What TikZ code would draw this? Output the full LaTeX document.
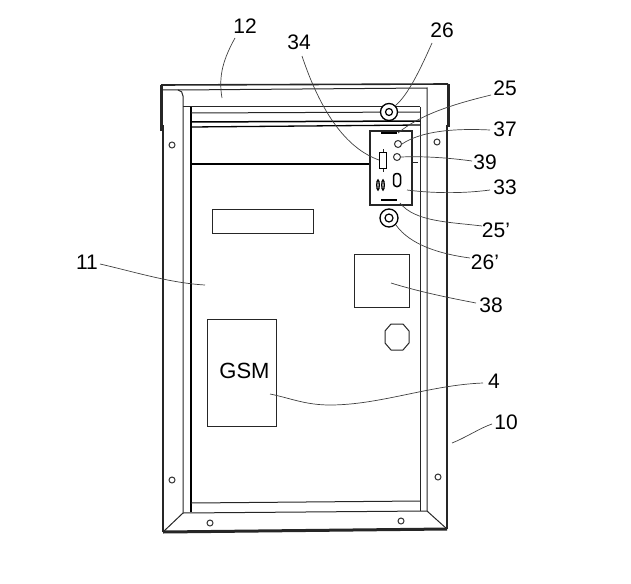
\documentclass[tikz,border=0pt]{standalone}
\usepackage{fontspec}
\setmainfont{Liberation Sans}
\usetikzlibrary{positioning,shapes.geometric}
\tikzset{
	numlabel/.style={inner sep=0pt,font=\fontsize{21}{21}\selectfont},
	leader/.style={line width=0.7pt,black!75},
	frameline/.style={line width=1pt,black!85},
	sideline/.style={line width=1.7pt,black!85},
	heavy/.style={line width=3pt,black!85},
	hole/.style={circle,draw,line width=1pt,black!80,inner sep=0pt,minimum size=6pt},
	unitbox/.style={draw,line width=1pt,black!85,inner sep=0pt,anchor=north west}
}
\begin{document}
\begin{tikzpicture}[x=1pt,y=-1pt]
	\useasboundingbox (0,0) rectangle (631,583);
	% outer frame
	\draw[line width=1.6pt,black!85] (161,85)--(448,84);
	\draw[heavy] (161.5,131)--(161.5,85);
	\draw[heavy] (448,127)--(448,84);
	\draw[sideline] (163,125)--(163,532);
	\draw[sideline] (447,125)--(447,529);
	\draw[heavy] (163,532)--(447,529);
	\draw[frameline] (163,90)--(178,90) to[out=0,in=90] (183,96)--(183,513);
	\draw[frameline] (178,90)--(427,88)--(427,511);
	\draw[frameline] (163,532)--(183,513)--(427,511)--(447,529);
	% inner rails
	\draw[frameline] (183,107)--(191,107);
	\draw[line width=1.5pt] (191,107)--(191,512);
	\draw[frameline] (191,503)--(420,501);
	\draw[frameline] (420,107)--(420,511);
	\draw[frameline] (191,107)--(420,107);
	\draw[frameline] (191,113)--(420,112);
	\draw[line width=1.5pt] (191,122)--(420,121);
	\draw[line width=1.3pt] (191,127)--(420,125);
	\draw[line width=1.5pt] (191,164)--(369,164);
	% holes in the frame
	\node[hole] (h1) at (172,145) {};
	\node[hole] (h2) at (172,480) {};
	\node[hole] (h3) at (437,142) {};
	\node[hole] (h4) at (438,477) {};
	\node[hole] (h5) at (210,523) {};
	\node[hole] (h6) at (401,521) {};
	% plates
	\node[unitbox,minimum width=101pt,minimum height=24pt] (plate) at (212,209) {};
	\node[unitbox,minimum width=55pt,minimum height=53pt] (box38) at (354,254) {};
	\node[unitbox,minimum width=69pt,minimum height=107pt] (gsm) at (207,319) {};
	\node (gsmtext) at (244.5,371) {\fontsize{22}{22}\selectfont GSM};
	\draw[frameline] (391,324)--(403,324)--(409,331)--(409,343)--(403,350)--(391,350)--(385,343)--(385,331)--cycle;
	% holder with its parts
	\node[unitbox,line width=1.5pt,fill=white,minimum width=42pt,minimum height=74pt] (holder) at (369,130) {};
	\draw[frameline] (411,162)--(418,162);
	\draw[line width=2.2pt] (381,133)--(397,133);
	\draw[line width=2.8pt] (381,200)--(397,200);
	\node[hole,minimum size=7pt] (c37) at (398,144) {};
	\node[hole,minimum size=7pt] (c39) at (397,157) {};
	\node[draw,line width=1.5pt,rounded corners=3pt,inner sep=0pt,minimum width=7pt,minimum height=13pt] (oval) at (397,180) {};
	\node[draw,line width=1pt,inner sep=0pt,minimum width=7pt,minimum height=16pt] (fuse) at (383,160) {};
	\draw[frameline] (fuse.north)--++(0,-3);
	\draw[frameline] (fuse.south)--++(0,3);
	\node[draw,ellipse,line width=1.3pt,inner sep=0pt,minimum width=2.5pt,minimum height=10pt] (os1) at (378,185) {};
	\node[draw,ellipse,line width=1.3pt,inner sep=0pt,minimum width=2.5pt,minimum height=10pt] (os2) at (383,185) {};
	% round fittings
	\node[circle,draw,line width=1.3pt,fill=white,inner sep=0pt,minimum size=17pt] (r26) at (389,112) {};
	\node[circle,draw,line width=1.2pt,inner sep=0pt,minimum size=7pt] (r26i) at (389,112) {};
	\node[circle,draw,line width=1.3pt,inner sep=0pt,minimum size=18pt] (r26b) at (389,218) {};
	\node[circle,draw,line width=1.2pt,inner sep=0pt,minimum size=8pt] (r26bi) at (389,218) {};
	% reference numbers
	\node[numlabel] (n12) at (245,26) {12};
	\node[numlabel] (n26) at (442,30) {26};
	\node[numlabel] (n34) at (299,42) {34};
	\node[numlabel] (n25) at (505,88) {25};
	\node[numlabel] (n37) at (505,129) {37};
	\node[numlabel] (n39) at (485,162) {39};
	\node[numlabel] (n33) at (505,187) {33};
	\node[numlabel] (n25b) at (496,230) {25'};
	\node[numlabel] (n26b) at (485,262) {26'};
	\node[numlabel] (n38) at (491,305) {38};
	\node[numlabel] (n11) at (87,262) {11};
	\node[numlabel] (n4) at (494,381) {4};
	\node[numlabel] (n10) at (506,422) {10};
	% ends of the leaders
	\coordinate (e12) at (222,98);
	\coordinate (e25) at (398,133);
	\coordinate (e33) at (407,190);
	\coordinate (e25b) at (400,203);
	\coordinate (e38) at (391,283);
	\coordinate (e11) at (205,285);
	\coordinate (e4) at (270,394);
	\coordinate (e10) at (452,443);
	% leaders
	\draw[leader] (235,38) .. controls (224,58) and (218,75) .. (e12);
	\draw[leader] (432,43) .. controls (420,70) and (408,95) .. (r26.north east);
	\draw[leader] (302,56) .. controls (320,110) and (345,148) .. (fuse.west);
	\draw[leader] (491,95) .. controls (450,105) and (420,115) .. (e25);
	\draw[leader] (490,130) .. controls (450,128) and (420,132) .. (c37.east);
	\draw[leader] (472,161) .. controls (450,158) and (425,156) .. (c39.east);
	\draw[leader] (490,190) .. controls (460,194) and (430,193) .. (e33);
	\draw[leader] (482,226) .. controls (450,222) and (415,222) .. (e25b);
	\draw[leader] (470,258) .. controls (440,254) and (410,245) .. (r26b.south east);
	\draw[leader] (476,303) .. controls (450,298) and (420,292) .. (e38);
	\draw[leader] (100,264) .. controls (135,272) and (170,283) .. (e11);
	\draw[leader] (483,383) .. controls (430,385) and (380,405) .. (330,405) .. controls (305,405) and (290,398) .. (e4);
	\draw[leader] (492,424) .. controls (480,428) and (465,438) .. (e10);
\end{tikzpicture}
\end{document}
